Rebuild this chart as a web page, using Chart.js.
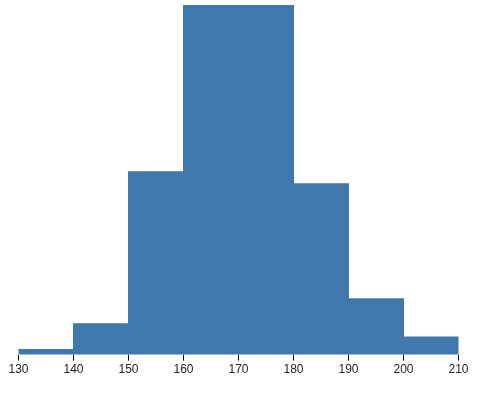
<!DOCTYPE html>
<html>
<head>
<meta charset="utf-8">
<script src="https://cdn.jsdelivr.net/npm/chart.js@4"></script>
<style>
  html, body { margin: 0; padding: 0; background: #fff; }
  #wrap { width: 482px; height: 393px; }
</style>
</head>
<body>
<div id="wrap"><canvas id="hist"></canvas></div>
<script>
// bins (lower edges), counts
const binStarts = [130, 140, 150, 160, 170, 180, 190, 200];
const binWidth = 10;
const counts = [1, 6.2, 36.6, 70, 70, 34.2, 11.2, 3.5];
const tickValues = [130, 140, 150, 160, 170, 180, 190, 200, 210];

const points = binStarts.map((s, i) => ({ x: s + binWidth / 2, y: counts[i] }));

new Chart(document.getElementById('hist'), {
  type: 'bar',
  data: {
    datasets: [{
      data: points,
      backgroundColor: '#3e78ac',
      borderWidth: 0,
      inflateAmount: 0.5,
      barPercentage: 1,
      categoryPercentage: 1
    }]
  },
  options: {
    responsive: true,
    maintainAspectRatio: false,
    animation: false,
    layout: { padding: { top: 5, left: 18.5, right: 23.5, bottom: 14 } },
    plugins: { legend: { display: false }, tooltip: { enabled: false } },
    scales: {
      x: {
        type: 'linear',
        offset: false,
        min: 130,
        max: 210,
        afterBuildTicks: axis => { axis.ticks = tickValues.map(v => ({ value: v })); },
        grid: { offset: false, drawOnChartArea: false, drawTicks: true, tickLength: 6, color: '#000' },
        border: { display: false },
        ticks: {
          color: '#222',
          padding: 2,
          maxRotation: 0,
          font: { family: '"Liberation Sans Narrow", "Liberation Sans", sans-serif', size: 12 }
        }
      },
      y: {
        display: false,
        min: 0,
        max: 70
      }
    }
  }
});
</script>
</body>
</html>
